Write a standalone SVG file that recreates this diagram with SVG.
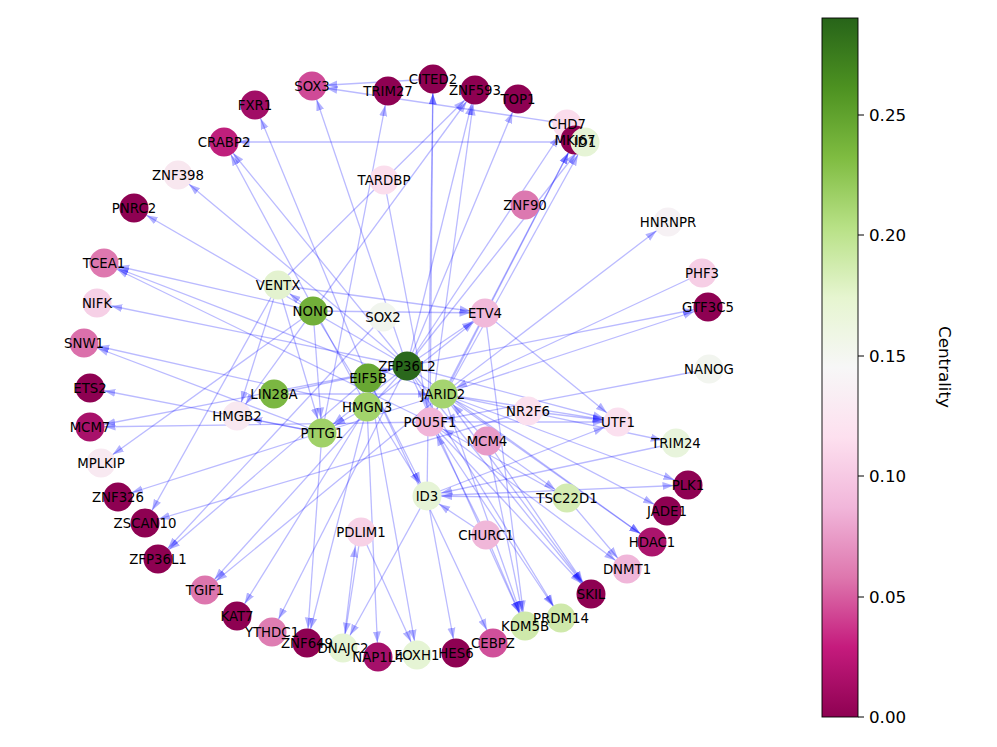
<svg xmlns="http://www.w3.org/2000/svg" width="997" height="747" viewBox="0 0 997 747">
<defs>
<style>
.e{stroke:#0000ff;stroke-opacity:.27;stroke-width:1.3;fill:none;marker-end:url(#arr)}
.lb{font-family:"DejaVu Sans","Liberation Sans",sans-serif;font-size:13.3px;text-anchor:middle;fill:#000}
.tk{font-family:"DejaVu Sans","Liberation Sans",sans-serif;font-size:16.7px;fill:#000}
.tl{stroke:#000;stroke-width:1}
</style>
<marker id="arr" markerUnits="userSpaceOnUse" markerWidth="30" markerHeight="10" viewBox="0 0 30 10" refX="25.5" refY="5" orient="auto">
<path d="M0,1 L11,5 L0,9 z" fill="#0000ff" fill-opacity="0.3"/>
</marker>
<linearGradient id="cmap" x1="0" y1="1" x2="0" y2="0">
<stop offset="0" stop-color="#8e0152"/>
<stop offset="0.1" stop-color="#c51b7d"/>
<stop offset="0.2" stop-color="#de77ae"/>
<stop offset="0.3" stop-color="#f1b6da"/>
<stop offset="0.4" stop-color="#fde0ef"/>
<stop offset="0.5" stop-color="#f7f7f7"/>
<stop offset="0.6" stop-color="#e6f5d0"/>
<stop offset="0.7" stop-color="#b8e186"/>
<stop offset="0.8" stop-color="#7fbc41"/>
<stop offset="0.9" stop-color="#4d9221"/>
<stop offset="1" stop-color="#276419"/>
</linearGradient>
</defs>
<rect width="997" height="747" fill="#fff"/>
<g id="edges">
<line class="e" x1="407" y1="366" x2="312" y2="86"/>
<line class="e" x1="407" y1="366" x2="518" y2="99"/>
<line class="e" x1="407" y1="366" x2="567" y2="124"/>
<line class="e" x1="407" y1="366" x2="178" y2="175"/>
<line class="e" x1="407" y1="366" x2="134" y2="208"/>
<line class="e" x1="407" y1="366" x2="97" y2="303"/>
<line class="e" x1="407" y1="366" x2="90" y2="427"/>
<line class="e" x1="407" y1="366" x2="708" y2="307"/>
<line class="e" x1="407" y1="366" x2="618" y2="422"/>
<line class="e" x1="407" y1="366" x2="591" y2="594"/>
<line class="e" x1="407" y1="366" x2="561" y2="618"/>
<line class="e" x1="407" y1="366" x2="652" y2="542"/>
<line class="e" x1="407" y1="366" x2="205" y2="590"/>
<line class="e" x1="407" y1="366" x2="272" y2="632"/>
<line class="e" x1="407" y1="366" x2="224" y2="142"/>
<line class="e" x1="407" y1="366" x2="322" y2="433"/>
<line class="e" x1="407" y1="366" x2="585" y2="142"/>
<line class="e" x1="407" y1="366" x2="485" y2="313"/>
<line class="e" x1="407" y1="366" x2="475" y2="90"/>
<line class="e" x1="407" y1="366" x2="525" y2="626"/>
<line class="e" x1="443" y1="394" x2="575" y2="140"/>
<line class="e" x1="443" y1="394" x2="668" y2="222"/>
<line class="e" x1="443" y1="394" x2="708" y2="307"/>
<line class="e" x1="443" y1="394" x2="688" y2="485"/>
<line class="e" x1="443" y1="394" x2="667" y2="511"/>
<line class="e" x1="443" y1="394" x2="591" y2="594"/>
<line class="e" x1="443" y1="394" x2="525" y2="626"/>
<line class="e" x1="443" y1="394" x2="118" y2="497"/>
<line class="e" x1="443" y1="394" x2="205" y2="590"/>
<line class="e" x1="443" y1="394" x2="618" y2="422"/>
<line class="e" x1="443" y1="394" x2="676" y2="443"/>
<line class="e" x1="443" y1="394" x2="104" y2="263"/>
<line class="e" x1="443" y1="394" x2="652" y2="542"/>
<line class="e" x1="430" y1="422" x2="433" y2="79"/>
<line class="e" x1="430" y1="422" x2="475" y2="90"/>
<line class="e" x1="430" y1="422" x2="585" y2="142"/>
<line class="e" x1="430" y1="422" x2="575" y2="140"/>
<line class="e" x1="430" y1="422" x2="104" y2="263"/>
<line class="e" x1="430" y1="422" x2="90" y2="427"/>
<line class="e" x1="430" y1="422" x2="618" y2="422"/>
<line class="e" x1="430" y1="422" x2="561" y2="618"/>
<line class="e" x1="430" y1="422" x2="627" y2="569"/>
<line class="e" x1="430" y1="422" x2="591" y2="594"/>
<line class="e" x1="427" y1="496" x2="433" y2="79"/>
<line class="e" x1="427" y1="496" x2="456" y2="653"/>
<line class="e" x1="427" y1="496" x2="343" y2="648"/>
<line class="e" x1="427" y1="496" x2="688" y2="485"/>
<line class="e" x1="427" y1="496" x2="618" y2="422"/>
<line class="e" x1="676" y1="443" x2="427" y2="496"/>
<line class="e" x1="567" y1="498" x2="427" y2="496"/>
<line class="e" x1="368" y1="378" x2="427" y2="496"/>
<line class="e" x1="313" y1="311" x2="427" y2="496"/>
<line class="e" x1="313" y1="311" x2="104" y2="263"/>
<line class="e" x1="313" y1="311" x2="101" y2="463"/>
<line class="e" x1="313" y1="311" x2="278" y2="285"/>
<line class="e" x1="313" y1="311" x2="485" y2="313"/>
<line class="e" x1="313" y1="311" x2="237" y2="416"/>
<line class="e" x1="313" y1="311" x2="322" y2="433"/>
<line class="e" x1="313" y1="311" x2="475" y2="90"/>
<line class="e" x1="278" y1="285" x2="475" y2="90"/>
<line class="e" x1="278" y1="285" x2="485" y2="313"/>
<line class="e" x1="278" y1="285" x2="145" y2="523"/>
<line class="e" x1="278" y1="285" x2="322" y2="433"/>
<line class="e" x1="278" y1="285" x2="237" y2="416"/>
<line class="e" x1="322" y1="433" x2="388" y2="91"/>
<line class="e" x1="322" y1="433" x2="84" y2="343"/>
<line class="e" x1="322" y1="433" x2="90" y2="388"/>
<line class="e" x1="322" y1="433" x2="307" y2="643"/>
<line class="e" x1="322" y1="433" x2="237" y2="416"/>
<line class="e" x1="367" y1="407" x2="224" y2="142"/>
<line class="e" x1="367" y1="407" x2="237" y2="616"/>
<line class="e" x1="367" y1="407" x2="307" y2="643"/>
<line class="e" x1="367" y1="407" x2="378" y2="657"/>
<line class="e" x1="367" y1="407" x2="84" y2="343"/>
<line class="e" x1="367" y1="407" x2="322" y2="433"/>
<line class="e" x1="367" y1="407" x2="485" y2="313"/>
<line class="e" x1="368" y1="378" x2="255" y2="105"/>
<line class="e" x1="368" y1="378" x2="417" y2="655"/>
<line class="e" x1="368" y1="378" x2="493" y2="643"/>
<line class="e" x1="368" y1="378" x2="158" y2="559"/>
<line class="e" x1="383" y1="317" x2="158" y2="559"/>
<line class="e" x1="361" y1="532" x2="343" y2="648"/>
<line class="e" x1="343" y1="648" x2="357" y2="532"/>
<line class="e" x1="361" y1="532" x2="417" y2="655"/>
<line class="e" x1="486" y1="535" x2="525" y2="626"/>
<line class="e" x1="486" y1="535" x2="427" y2="496"/>
<line class="e" x1="486" y1="535" x2="430" y2="422"/>
<line class="e" x1="487" y1="441" x2="525" y2="626"/>
<line class="e" x1="487" y1="441" x2="567" y2="498"/>
<line class="e" x1="487" y1="441" x2="443" y2="394"/>
<line class="e" x1="487" y1="441" x2="591" y2="594"/>
<line class="e" x1="567" y1="498" x2="627" y2="569"/>
<line class="e" x1="567" y1="498" x2="430" y2="422"/>
<line class="e" x1="485" y1="313" x2="618" y2="422"/>
<line class="e" x1="485" y1="313" x2="525" y2="626"/>
<line class="e" x1="528" y1="411" x2="145" y2="523"/>
<line class="e" x1="528" y1="411" x2="618" y2="422"/>
<line class="e" x1="709" y1="369" x2="430" y2="422"/>
<line class="e" x1="702" y1="273" x2="443" y2="394"/>
<line class="e" x1="384" y1="180" x2="430" y2="422"/>
<line class="e" x1="433" y1="79" x2="312" y2="86"/>
<line class="e" x1="567" y1="124" x2="312" y2="86"/>
<line class="e" x1="585" y1="142" x2="224" y2="142"/>
<line class="e" x1="274" y1="394" x2="443" y2="394"/>
<line class="e" x1="274" y1="394" x2="407" y2="366"/>
</g>
<g id="nodes">
<g id="n-SOX3"><circle cx="312" cy="86" r="14.5" fill="#cf4a97"/></g>
<g id="n-TRIM27"><circle cx="388" cy="91" r="14.5" fill="#8e0152"/></g>
<g id="n-CITED2"><circle cx="433" cy="79" r="14.5" fill="#8e0152"/></g>
<g id="n-ZNF593"><circle cx="475" cy="90" r="14.5" fill="#8e0152"/></g>
<g id="n-TOP1"><circle cx="518" cy="99" r="14.5" fill="#8e0152"/></g>
<g id="n-CHD7"><circle cx="567" cy="124" r="14.5" fill="#fbdcec"/></g>
<g id="n-MKI67"><circle cx="575" cy="140" r="14.5" fill="#8e0152"/></g>
<g id="n-ID1"><circle cx="585" cy="142" r="14.5" fill="#e6f4d6"/></g>
<g id="n-ZNF90"><circle cx="525" cy="205" r="14.5" fill="#dc78b0"/></g>
<g id="n-TARDBP"><circle cx="384" cy="180" r="14.5" fill="#fbdeed"/></g>
<g id="n-HNRNPR"><circle cx="668" cy="222" r="14.5" fill="#f6f1f4"/></g>
<g id="n-PHF3"><circle cx="702" cy="273" r="14.5" fill="#f6cee5"/></g>
<g id="n-GTF3C5"><circle cx="708" cy="307" r="14.5" fill="#8e0152"/></g>
<g id="n-NANOG"><circle cx="709" cy="369" r="14.5" fill="#f2f5ef"/></g>
<g id="n-TRIM24"><circle cx="676" cy="443" r="14.5" fill="#e8f4dc"/></g>
<g id="n-UTF1"><circle cx="618" cy="422" r="14.5" fill="#fbe0ef"/></g>
<g id="n-NR2F6"><circle cx="528" cy="411" r="14.5" fill="#fbe0ef"/></g>
<g id="n-ETV4"><circle cx="485" cy="313" r="14.5" fill="#f1b9da"/></g>
<g id="n-PLK1"><circle cx="688" cy="485" r="14.5" fill="#8e0152"/></g>
<g id="n-JADE1"><circle cx="667" cy="511" r="14.5" fill="#8e0152"/></g>
<g id="n-HDAC1"><circle cx="652" cy="542" r="14.5" fill="#ab146c"/></g>
<g id="n-DNMT1"><circle cx="627" cy="569" r="14.5" fill="#f0b6d9"/></g>
<g id="n-SKIL"><circle cx="591" cy="594" r="14.5" fill="#8e0152"/></g>
<g id="n-PRDM14"><circle cx="561" cy="618" r="14.5" fill="#cfe9ab"/></g>
<g id="n-KDM5B"><circle cx="525" cy="626" r="14.5" fill="#cfe9ab"/></g>
<g id="n-CEBPZ"><circle cx="493" cy="643" r="14.5" fill="#d0509a"/></g>
<g id="n-HES6"><circle cx="456" cy="653" r="14.5" fill="#8e0152"/></g>
<g id="n-FOXH1"><circle cx="417" cy="655" r="14.5" fill="#e5f4d4"/></g>
<g id="n-NAP1L4"><circle cx="378" cy="657" r="14.5" fill="#a5106a"/></g>
<g id="n-DNAJC2"><circle cx="343" cy="648" r="14.5" fill="#e5f4d4"/></g>
<g id="n-YTHDC1"><circle cx="272" cy="632" r="14.5" fill="#de7db2"/></g>
<g id="n-ZNF649"><circle cx="307" cy="643" r="14.5" fill="#8e0152"/></g>
<g id="n-KAT7"><circle cx="237" cy="616" r="14.5" fill="#8e0152"/></g>
<g id="n-TGIF1"><circle cx="205" cy="590" r="14.5" fill="#dd76ae"/></g>
<g id="n-ZFP36L1"><circle cx="158" cy="559" r="14.5" fill="#8e0152"/></g>
<g id="n-ZSCAN10"><circle cx="145" cy="523" r="14.5" fill="#8e0152"/></g>
<g id="n-ZNF326"><circle cx="118" cy="497" r="14.5" fill="#8e0152"/></g>
<g id="n-MPLKIP"><circle cx="101" cy="463" r="14.5" fill="#f8e9f1"/></g>
<g id="n-MCM7"><circle cx="90" cy="427" r="14.5" fill="#a8116a"/></g>
<g id="n-ETS2"><circle cx="90" cy="388" r="14.5" fill="#8e0152"/></g>
<g id="n-SNW1"><circle cx="84" cy="343" r="14.5" fill="#db70ab"/></g>
<g id="n-NIFK"><circle cx="97" cy="303" r="14.5" fill="#f6d0e6"/></g>
<g id="n-TCEA1"><circle cx="104" cy="263" r="14.5" fill="#de78af"/></g>
<g id="n-PNRC2"><circle cx="134" cy="208" r="14.5" fill="#8e0152"/></g>
<g id="n-ZNF398"><circle cx="178" cy="175" r="14.5" fill="#f8e7ef"/></g>
<g id="n-CRABP2"><circle cx="224" cy="142" r="14.5" fill="#bf1f7c"/></g>
<g id="n-FXR1"><circle cx="255" cy="105" r="14.5" fill="#a10d66"/></g>
<g id="n-VENTX"><circle cx="278" cy="285" r="14.5" fill="#e3f2cf"/></g>
<g id="n-NONO"><circle cx="313" cy="311" r="14.5" fill="#72af3a"/></g>
<g id="n-SOX2"><circle cx="383" cy="317" r="14.5" fill="#f1f5ee"/></g>
<g id="n-ZFP36L2"><circle cx="407" cy="366" r="14.5" fill="#2a681c"/></g>
<g id="n-EIF5B"><circle cx="368" cy="378" r="14.5" fill="#68a733"/></g>
<g id="n-LIN28A"><circle cx="274" cy="394" r="14.5" fill="#7bb742"/></g>
<g id="n-HMGB2"><circle cx="237" cy="416" r="14.5" fill="#f8e8f0"/></g>
<g id="n-HMGN3"><circle cx="367" cy="407" r="14.5" fill="#a2d36b"/></g>
<g id="n-JARID2"><circle cx="443" cy="394" r="14.5" fill="#a5d470"/></g>
<g id="n-POU5F1"><circle cx="430" cy="422" r="14.5" fill="#f1b5d9"/></g>
<g id="n-PTTG1"><circle cx="322" cy="433" r="14.5" fill="#a0d168"/></g>
<g id="n-MCM4"><circle cx="487" cy="441" r="14.5" fill="#e89bc8"/></g>
<g id="n-ID3"><circle cx="427" cy="496" r="14.5" fill="#e6f4d6"/></g>
<g id="n-TSC22D1"><circle cx="567" cy="498" r="14.5" fill="#d3ebb2"/></g>
<g id="n-PDLIM1"><circle cx="361" cy="532" r="14.5" fill="#f7d1e6"/></g>
<g id="n-CHURC1"><circle cx="486" cy="535" r="14.5" fill="#f0b7d9"/></g>
</g>
<g id="labels" class="lb">
<text x="312" y="90.7">SOX3</text>
<text x="388" y="95.7">TRIM27</text>
<text x="433" y="83.7">CITED2</text>
<text x="475" y="94.7">ZNF593</text>
<text x="518" y="103.7">TOP1</text>
<text x="567" y="128.7">CHD7</text>
<text x="575" y="144.7">MKI67</text>
<text x="585" y="146.7">ID1</text>
<text x="525" y="209.7">ZNF90</text>
<text x="384" y="184.7">TARDBP</text>
<text x="668" y="226.7">HNRNPR</text>
<text x="702" y="277.7">PHF3</text>
<text x="708" y="311.7">GTF3C5</text>
<text x="709" y="373.7">NANOG</text>
<text x="676" y="447.7">TRIM24</text>
<text x="618" y="426.7">UTF1</text>
<text x="528" y="415.7">NR2F6</text>
<text x="485" y="317.7">ETV4</text>
<text x="688" y="489.7">PLK1</text>
<text x="667" y="515.7">JADE1</text>
<text x="652" y="546.7">HDAC1</text>
<text x="627" y="573.7">DNMT1</text>
<text x="591" y="598.7">SKIL</text>
<text x="561" y="622.7">PRDM14</text>
<text x="525" y="630.7">KDM5B</text>
<text x="493" y="647.7">CEBPZ</text>
<text x="456" y="657.7">HES6</text>
<text x="417" y="659.7">FOXH1</text>
<text x="378" y="661.7">NAP1L4</text>
<text x="343" y="652.7">DNAJC2</text>
<text x="272" y="636.7">YTHDC1</text>
<text x="307" y="647.7">ZNF649</text>
<text x="237" y="620.7">KAT7</text>
<text x="205" y="594.7">TGIF1</text>
<text x="158" y="563.7">ZFP36L1</text>
<text x="145" y="527.7">ZSCAN10</text>
<text x="118" y="501.7">ZNF326</text>
<text x="101" y="467.7">MPLKIP</text>
<text x="90" y="431.7">MCM7</text>
<text x="90" y="392.7">ETS2</text>
<text x="84" y="347.7">SNW1</text>
<text x="97" y="307.7">NIFK</text>
<text x="104" y="267.7">TCEA1</text>
<text x="134" y="212.7">PNRC2</text>
<text x="178" y="179.7">ZNF398</text>
<text x="224" y="146.7">CRABP2</text>
<text x="255" y="109.7">FXR1</text>
<text x="278" y="289.7">VENTX</text>
<text x="313" y="315.7">NONO</text>
<text x="383" y="321.7">SOX2</text>
<text x="407" y="370.7">ZFP36L2</text>
<text x="368" y="382.7">EIF5B</text>
<text x="274" y="398.7">LIN28A</text>
<text x="237" y="420.7">HMGB2</text>
<text x="367" y="411.7">HMGN3</text>
<text x="443" y="398.7">JARID2</text>
<text x="430" y="426.7">POU5F1</text>
<text x="322" y="437.7">PTTG1</text>
<text x="487" y="445.7">MCM4</text>
<text x="427" y="500.7">ID3</text>
<text x="567" y="502.7">TSC22D1</text>
<text x="361" y="536.7">PDLIM1</text>
<text x="486" y="539.7">CHURC1</text>
</g>
<g id="colorbar">
<rect x="822" y="18" width="36" height="699" fill="url(#cmap)" stroke="#000" stroke-width="0.9"/>
<line class="tl" x1="858" y1="717" x2="864" y2="717"/>
<line class="tl" x1="858" y1="597" x2="864" y2="597"/>
<line class="tl" x1="858" y1="476" x2="864" y2="476"/>
<line class="tl" x1="858" y1="356" x2="864" y2="356"/>
<line class="tl" x1="858" y1="235" x2="864" y2="235"/>
<line class="tl" x1="858" y1="115" x2="864" y2="115"/>
<text class="tk" x="869" y="723">0.00</text>
<text class="tk" x="869" y="603">0.05</text>
<text class="tk" x="869" y="482">0.10</text>
<text class="tk" x="869" y="362">0.15</text>
<text class="tk" x="869" y="241">0.20</text>
<text class="tk" x="869" y="121">0.25</text>
<text class="tk" transform="translate(939,367) rotate(90)" text-anchor="middle" font-size="20">Centrality</text>
</g>
</svg>
